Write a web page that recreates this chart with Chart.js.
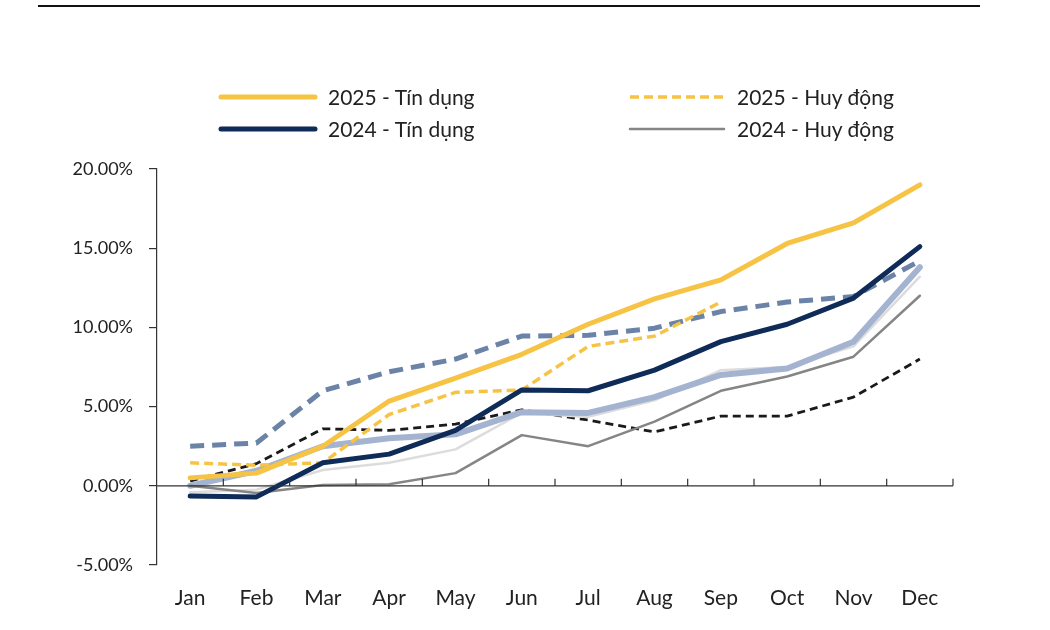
<!DOCTYPE html>
<html>
<head>
<meta charset="utf-8">
<script src="https://cdn.jsdelivr.net/npm/chart.js@4"></script>
<style>
    body { margin: 0; background: #fff; }
    #wrap { position: relative; width: 1050px; height: 630px; font-family: Lato, "Noto Sans", sans-serif; }
    #topline { position: absolute; left: 38px; top: 5px; width: 942px; height: 2px; background: #111; }
    #legend { position: absolute; left: 0; top: 0; }
    .item { position: absolute; display: flex; align-items: center; font-size: 21px; color: #222; white-space: nowrap; }
    .item canvas { margin-right: 10px; }
    #chart { position: absolute; left: 0; top: 0; }
</style>
</head>
<body>
<div id="wrap">
    <div id="topline"></div>
    <canvas id="chart" width="1050" height="630"></canvas>
    <div id="legend"></div>
</div>
<script>
// Dữ liệu (% tăng trưởng lũy kế so với đầu năm)
const months = ['Jan', 'Feb', 'Mar', 'Apr', 'May', 'Jun', 'Jul', 'Aug', 'Sep', 'Oct', 'Nov', 'Dec'];
const yTicks = [-5, 0, 5, 10, 15, 20];

const credit2025 = [0.5, 0.8, 2.5, 5.35, 6.8, 8.3, 10.2, 11.8, 13.0, 15.3, 16.6, 19.0];
const deposit2025 = [1.45, 1.3, 1.45, 4.5, 5.9, 6.05, 8.8, 9.45, 11.6, null, null, null];
const credit2024 = [-0.65, -0.7, 1.45, 2.0, 3.5, 6.05, 6.0, 7.3, 9.1, 10.2, 11.85, 15.1];
const deposit2024 = [0.0, -0.45, 0.05, 0.1, 0.8, 3.2, 2.5, 4.05, 6.0, 6.9, 8.15, 12.0];
// các đường không có chú giải
const otherDashed = [2.5, 2.7, 6.0, 7.2, 8.0, 9.45, 9.5, 9.95, 11.0, 11.6, 11.95, 14.2];
const otherLight = [0.0, 0.95, 2.5, 3.0, 3.25, 4.65, 4.6, 5.6, 7.0, 7.4, 9.1, 13.8];
const otherGrey = [-0.4, -0.25, 1.0, 1.45, 2.3, 4.6, 4.35, 5.4, 7.3, 7.5, 8.8, 13.2];
const otherBlack = [0.3, 1.4, 3.6, 3.5, 3.9, 4.8, 4.15, 3.4, 4.4, 4.4, 5.6, 8.0];

const series = [
    { label: '2025 - Tín dụng', data: credit2025, color: '#F6C344', width: 5, dash: [], legend: true },
    { label: '2024 - Tín dụng', data: credit2024, color: '#0F2B57', width: 5, dash: [], legend: true },
    { label: '2025 - Huy động', data: deposit2025, color: '#F6C344', width: 3.5, dash: [9, 5], legend: true },
    { label: '2024 - Huy động', data: deposit2024, color: '#858585', width: 2.5, dash: [], legend: true },
    { label: 'a', data: otherDashed, color: '#6C83A8', width: 5, dash: [14, 8], legend: false },
    { label: 'b', data: otherLight, color: '#A4B4D0', width: 6, dash: [], legend: false },
    { label: 'c', data: otherGrey, color: '#DCDCDC', width: 2.5, dash: [], legend: false },
    { label: 'd', data: otherBlack, color: '#1A1A1A', width: 2.8, dash: [8, 5], legend: false }
];

// Trục 0 và vạch chia trục x
const zeroAxis = {
    id: 'zeroAxis',
    afterDatasetsDraw(chart) {
        const { ctx, chartArea, scales } = chart;
        const y0 = scales.y.getPixelForValue(0);
        const step = (chartArea.right - chartArea.left) / months.length;
        ctx.save();
        ctx.strokeStyle = '#333';
        ctx.lineWidth = 1.2;
        ctx.beginPath();
        ctx.moveTo(chartArea.left, y0);
        ctx.lineTo(chartArea.right, y0);
        for (let i = 1; i <= months.length; i++) {
            const x = chartArea.left + step * i;
            ctx.moveTo(x, y0);
            ctx.lineTo(x, y0 - 7);
        }
        ctx.stroke();
        ctx.restore();
    }
};

const chart = new Chart(document.getElementById('chart'), {
    type: 'line',
    data: {
        labels: months,
        datasets: series.map(s => ({
            label: s.label,
            data: s.data,
            borderColor: s.color,
            borderWidth: s.width,
            borderDash: s.dash,
            borderCapStyle: s.dash.length ? 'butt' : 'round',
            borderJoinStyle: 'round',
            pointRadius: 0,
            tension: 0,
            fill: false,
            spanGaps: false
        }))
    },
    options: {
        responsive: false,
        animation: false,
        layout: { padding: { top: 169, right: 97, left: 0, bottom: 0 } },
        plugins: {
            legend: { display: false },
            tooltip: { enabled: false }
        },
        scales: {
            x: {
                offset: true,
                grid: { display: false },
                border: { display: false },
                ticks: { color: '#222', font: { family: 'Lato', size: 21 }, padding: 13 },
                afterFit(scale) { scale.height = 65; }
            },
            y: {
                min: -5,
                max: 20,
                afterBuildTicks(scale) { scale.ticks = yTicks.map(v => ({ value: v })); },
                grid: { drawOnChartArea: false, tickLength: 8, color: '#333', lineWidth: 1.2 },
                border: { color: '#333', width: 1.2 },
                ticks: {
                    color: '#222',
                    font: { family: 'Lato', size: 18 },
                    padding: 16,
                    callback: v => v.toFixed(2) + '%'
                },
                afterFit(scale) { scale.width = 157; }
            }
        }
    },
    plugins: [zeroAxis]
});

// Chú giải HTML (2 cột)
const legendPos = [[218, 98], [218, 130], [627, 98], [627, 130]];
const legendEl = document.getElementById('legend');
series.filter(s => s.legend).forEach((s, i) => {
    const item = document.createElement('div');
    item.className = 'item';
    item.style.left = legendPos[i][0] + 'px';
    item.style.top = (legendPos[i][1] - 14) + 'px';
    const c = document.createElement('canvas');
    c.width = 100; c.height = 10;
    const g = c.getContext('2d');
    g.strokeStyle = s.color;
    g.lineWidth = s.width;
    g.lineCap = s.dash.length ? 'butt' : 'round';
    g.setLineDash(s.dash);
    g.beginPath();
    g.moveTo(3, 5); g.lineTo(97, 5);
    g.stroke();
    item.appendChild(c);
    const t = document.createElement('span');
    t.textContent = s.label;
    item.appendChild(t);
    legendEl.appendChild(item);
});
</script>
</body>
</html>
